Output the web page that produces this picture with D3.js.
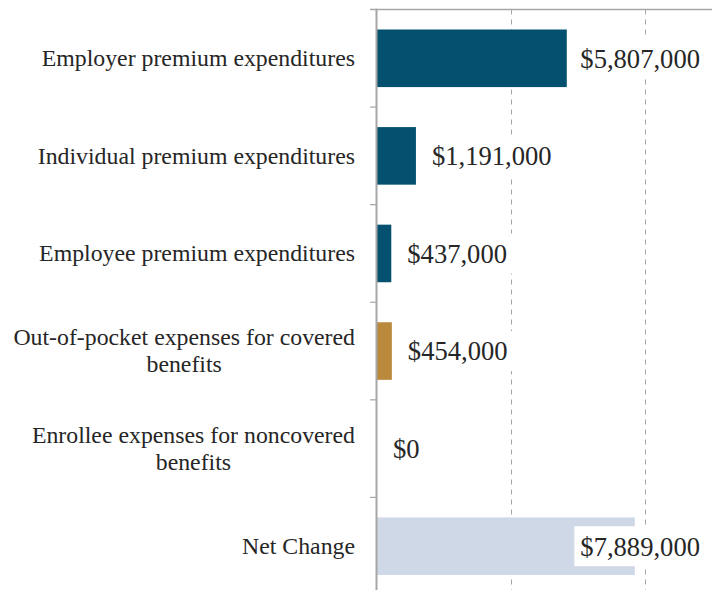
<!DOCTYPE html>
<html>
<head>
<meta charset="utf-8">
<script src="https://cdn.jsdelivr.net/npm/d3@7"></script>
<style>
  html, body { margin: 0; padding: 0; background: #fff; }
  svg { display: block; }
  text { font-family: "Liberation Serif", "Times New Roman", serif; fill: #262626; }
</style>
</head>
<body>
<svg id="chart" width="723" height="590"></svg>
<script>
const categories = [
  ["Employer premium expenditures"],
  ["Individual premium expenditures"],
  ["Employee premium expenditures"],
  ["Out-of-pocket expenses for covered", "benefits"],
  ["Enrollee expenses for noncovered", "benefits"],
  ["Net Change"]
];
const values = [5807000, 1191000, 437000, 454000, 0, 7889000];
const valueLabels = ["$5,807,000", "$1,191,000", "$437,000", "$454,000", "$0", "$7,889,000"];
const barColors = ["#03516f", "#03516f", "#03516f", "#ba893c", "#03516f", "#cfd8e7"];
const gridValues = [4100000, 8200000];

(function () {
const svg = d3.select("#chart");
const pLeft = 377, pRight = 712, pTop = 9.5, pBottom = 595;

const x = d3.scaleLinear().domain([0, 10250000]).range([pLeft, pRight]);
const y = d3.scaleBand().domain(d3.range(categories.length)).range([pTop, pBottom])
  .paddingInner(0.41).paddingOuter(0.205);

// gridlines
svg.append("g").selectAll("line").data(gridValues).join("line")
  .attr("x1", d => Math.round(x(d)) + 0.5).attr("x2", d => Math.round(x(d)) + 0.5)
  .attr("y1", pTop).attr("y2", 590)
  .attr("stroke", "#a6a6a6").attr("stroke-width", 1).attr("stroke-dasharray", "5,5");

// top border
svg.append("line").attr("x1", 370).attr("x2", pRight).attr("y1", pTop).attr("y2", pTop)
  .attr("stroke", "#a6a6a6").attr("stroke-width", 1.5);

// bars
svg.append("g").selectAll("rect").data(values).join("rect")
  .attr("x", x(0))
  .attr("y", (d, i) => y(i))
  .attr("width", d => x(d) - x(0))
  .attr("height", y.bandwidth())
  .attr("fill", (d, i) => barColors[i]);

// y axis line and ticks
const step = y.step();
const boundaries = d3.range(1, categories.length).map(i => y(i) - y.paddingInner() * step / 2);
svg.append("g").selectAll("line").data(boundaries).join("line")
  .attr("x1", 370).attr("x2", pLeft).attr("y1", d => d).attr("y2", d => d)
  .attr("stroke", "#a6a6a6").attr("stroke-width", 1.2);
svg.append("line").attr("x1", pLeft - 0.5).attr("x2", pLeft - 0.5).attr("y1", pTop - 0.75).attr("y2", 590)
  .attr("stroke", "#a6a6a6").attr("stroke-width", 2);

// category labels
const catFont = 23.8, lineH = 27;
const labelRight = 355;
categories.forEach((lines, i) => {
  const cy = y(i) + y.bandwidth() / 2;
  const widths = [];
  const tmp = svg.append("text").style("font-size", catFont + "px");
  lines.forEach(l => { tmp.text(l); widths.push(tmp.node().getComputedTextLength()); });
  tmp.remove();
  const maxW = d3.max(widths);
  const cx = labelRight - maxW / 2;
  const t = svg.append("text").style("font-size", catFont + "px");
  lines.forEach((l, j) => {
    const ly = cy + (j - (lines.length - 1) / 2) * lineH;
    t.append("tspan").attr("x", cx).attr("y", ly).attr("dy", "0.33em")
      .attr("text-anchor", "middle").text(l);
  });
});

// value labels with white boxes
const valFont = 26.6, padX = 6, gap = 10;
values.forEach((v, i) => {
  const cy = y(i) + y.bandwidth() / 2;
  const g = svg.append("g");
  const rect = g.append("rect").attr("fill", "#fff");
  const t = g.append("text").style("font-size", valFont + "px").attr("dy", "0.35em").text(valueLabels[i]);
  const w = t.node().getComputedTextLength();
  let bx = x(v) + gap;
  if (bx + w + 2 * padX > pRight - 6) bx = pRight - 6 - w - 2 * padX;
  t.attr("x", bx + padX).attr("y", cy);
  rect.attr("x", bx).attr("y", cy - 20).attr("width", w + 2 * padX).attr("height", 40);
});
})();
</script>
</body>
</html>
